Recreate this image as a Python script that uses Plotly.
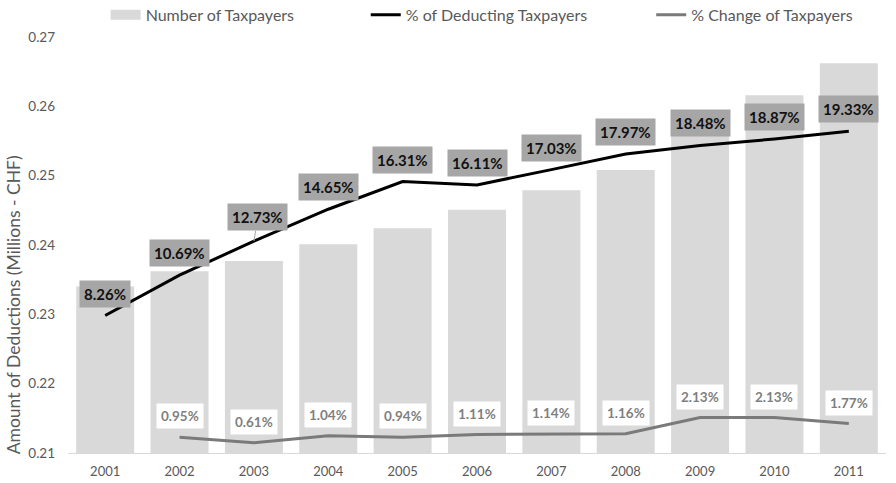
import plotly.graph_objects as go

# Data
years = [2001, 2002, 2003, 2004, 2005, 2006, 2007, 2008, 2009, 2010, 2011]
num_taxpayers = [0.2340, 0.2362, 0.2377, 0.2401, 0.2424, 0.2451, 0.2479, 0.2508, 0.2561, 0.2616, 0.2662]
pct_deducting = [0.0826, 0.1069, 0.1273, 0.1465, 0.1631, 0.1611, 0.1703, 0.1797, 0.1848, 0.1887, 0.1933]
change_years = [2002, 2003, 2004, 2005, 2006, 2007, 2008, 2009, 2010, 2011]
pct_change = [0.0095, 0.0061, 0.0104, 0.0094, 0.0111, 0.0114, 0.0116, 0.0213, 0.0213, 0.0177]

FONT = "Lato"
TXT = "#595959"
BAR = "#d9d9d9"
GREY_LINE = "#7a7a7a"

fig = go.Figure()

fig.add_trace(go.Bar(
    x=years, y=num_taxpayers, name="Number of Taxpayers",
    marker=dict(color=BAR, line=dict(width=0)), showlegend=False,
))
# wide swatch for the bar series legend entry (no visible data)
fig.add_trace(go.Scatter(
    x=years[:1], y=[None], mode="lines", name="Number of Taxpayers",
    line=dict(color=BAR, width=10), legend="legend", hoverinfo="skip",
))
fig.add_trace(go.Scatter(
    x=years, y=pct_deducting, yaxis="y2", mode="lines",
    name="% of Deducting Taxpayers", line=dict(color="black", width=3),
    legend="legend2",
))
fig.add_trace(go.Scatter(
    x=change_years, y=pct_change, yaxis="y2", mode="lines",
    name="% Change of Taxpayers", line=dict(color=GREY_LINE, width=3),
    legend="legend3",
))

annotations = []
for yr, v in zip(years, pct_deducting):
    a = dict(x=yr, y=v, xref="x", yref="y2", text=f"<b>{v*100:.2f}%</b>",
             bgcolor="#a6a6a6", borderpad=4,
             font=dict(family=FONT, size=15, color="#111111"))
    if yr == 2003:
        a.update(showarrow=True, arrowhead=0, arrowwidth=1, arrowcolor="#a6a6a6",
                 ax=4, ay=-24, standoff=0)
    else:
        a.update(showarrow=False, yshift=22)
    annotations.append(a)
for yr, v in zip(change_years, pct_change):
    annotations.append(dict(
        x=yr, y=v, xref="x", yref="y2", text=f"<b>{v*100:.2f}%</b>",
        showarrow=False, yshift=21, bgcolor="white", borderpad=4,
        font=dict(family=FONT, size=13.5, color="#7f7f7f"),
    ))

# y-axis title
annotations.append(dict(
    x=0, y=0.355, xref="paper", yref="paper", xshift=-55, textangle=-90,
    text="Amount of Deductions (Millions - CHF)", showarrow=False,
    xanchor="center", yanchor="middle",
    font=dict(family=FONT, size=17.5, color=TXT),
))

legend_common = dict(orientation="h", yanchor="middle", y=1.053, xanchor="left",
                     bgcolor="rgba(0,0,0,0)", font=dict(family=FONT, size=16, color=TXT),
                     itemwidth=30)

fig.update_layout(
    width=896, height=483,
    margin=dict(l=68, r=10, t=37, b=30, autoexpand=False),
    plot_bgcolor="white", paper_bgcolor="white",
    bargap=0.22,
    font=dict(family=FONT, size=13, color=TXT),
    xaxis=dict(range=[years[0] - 0.5, years[-1] + 0.5], tickvals=years,
               showgrid=False, zeroline=False, showline=True, linecolor="#d9d9d9",
               linewidth=1, ticks="", tickfont=dict(size=13, color=TXT),
               ticklabelstandoff=6),
    yaxis=dict(range=[0.21, 0.27], dtick=0.01, tickformat=".2f", showgrid=False,
               zeroline=False, showline=False, ticks="", ticklabelstandoff=12,
               tickfont=dict(size=13.5, color=TXT)),
    yaxis2=dict(range=[0, 0.25], overlaying="y", side="right", visible=False),
    legend=dict(legend_common, x=0.046),
    legend2=dict(legend_common, x=0.364),
    legend3=dict(legend_common, x=0.713),
    annotations=annotations,
)

fig.write_html("out.html")
